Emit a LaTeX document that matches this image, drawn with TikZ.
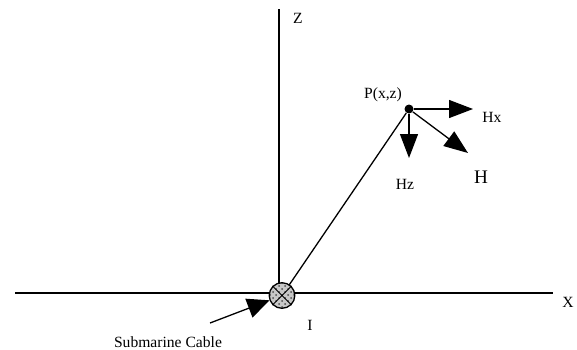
\documentclass[tikz,border=0pt]{standalone}
\usepackage{fontspec}
\setmainfont{Liberation Serif}
\usepackage{tikz}
\usetikzlibrary{arrows.meta,positioning,patterns}
\definecolor{ink}{HTML}{000000}
\definecolor{cablefill}{HTML}{C8C8C8}

\begin{document}
\begin{tikzpicture}[x=0.5pt,y=-0.5pt,
    axisline/.style={draw=ink, line width=0.65pt},
    vec/.style={draw=ink, line width=0.65pt,
                -{Triangle[length=12pt,width=9pt]}},
    lbl/.style={font=\fontsize{7.8}{9}\selectfont, inner sep=0pt},
    cable/.style={circle, draw=ink, line width=0.65pt,
                  preaction={fill=cablefill},
                  pattern=crosshatch dots, pattern color=ink!70,
                  minimum size=12.8pt, inner sep=0pt},
]
\useasboundingbox (0,0) rectangle (577,349);

% axes
\coordinate (ztop) at (279,9);
\coordinate (zbot) at (279,294);
\coordinate (xleft) at (15,293);
\coordinate (xright) at (553,293);
\draw[axisline] (ztop) -- (zbot);
\draw[axisline] (xleft) -- (xright);
\node[lbl] (zlbl) at (298,18) {Z};
\node[lbl] (xlbl) at (568,302) {X};

% field point
\node[circle, fill=ink, minimum size=4.5pt, inner sep=0pt] (P) at (409,109) {};
\node[lbl] (plbl) at (383,95) {P(x,z)};
\coordinate (O) at (282,295.5);
\draw[axisline] (O) -- (P);

% field vectors
\coordinate (hxend) at (473,109);
\coordinate (hzend) at (409,158);
\coordinate (hend) at (468,153);
\draw[vec] (P) -- (hxend);
\draw[vec] (P) -- (hzend);
\draw[vec] (P) -- (hend);
\node[lbl] (hxlbl) at (492,117) {Hx};
\node[lbl] (hzlbl) at (405,184) {Hz};
\node[lbl, font=\fontsize{9.6}{11}\selectfont] (hlbl) at (481,177) {H};

% cable
\node[cable] (cab) at (O) {};
\draw[ink, line width=0.5pt] (cab.north east) -- (cab.south west)
    (cab.north west) -- (cab.south east);
\node[lbl] (ilbl) at (310,325) {I};
\coordinate (ctail) at (210,323);
\draw[vec, -{Triangle[length=11pt,width=10pt]}] (ctail) -- (cab);
\node[lbl] (clbl) at (168,342) {Submarine Cable};
\end{tikzpicture}
\end{document}
